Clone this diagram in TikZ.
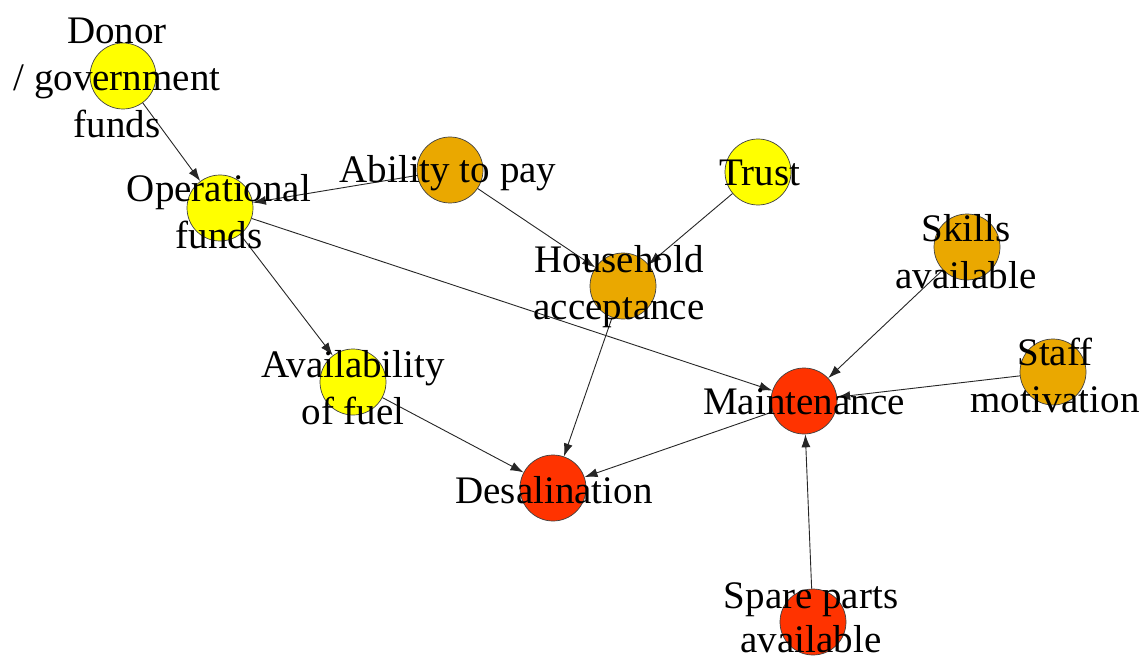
\documentclass[tikz,border=0pt]{standalone}
\usepackage{fontspec}
\setmainfont{Liberation Serif}
\usetikzlibrary{arrows.meta}
\definecolor{cyel}{RGB}{255,255,0}
\definecolor{corg}{RGB}{234,168,0}
\definecolor{cred}{RGB}{255,51,0}
\begin{document}
\begin{tikzpicture}[x=1pt,y=-1pt,
  nd/.style={circle,draw=black!75,line width=0.7pt,minimum size=66pt,inner sep=0pt},
  lbl/.style={font=\fontsize{39}{47}\selectfont,align=center,inner sep=0pt},
  edge/.style={draw=black!85,line width=0.9pt,-{Latex[length=13pt,width=9pt]}}]
\useasboundingbox[fill=white] (0,0) rectangle (1145,663);
% circles
\node[nd,fill=cyel] (donor) at (123,76) {};
\node[nd,fill=cyel] (opf) at (220,208) {};
\node[nd,fill=corg] (pay) at (450,170) {};
\node[nd,fill=cyel] (trust) at (758,172) {};
\node[nd,fill=corg] (house) at (623,286) {};
\node[nd,fill=corg] (skills) at (967,247) {};
\node[nd,fill=corg] (staff) at (1053,372) {};
\node[nd,fill=cred] (maint) at (804,401) {};
\node[nd,fill=cyel] (fuel) at (353,382) {};
\node[nd,fill=cred] (desal) at (553,488) {};
\node[nd,fill=cred] (spare) at (813,622) {};
% edges
\draw[edge] (donor) -- (opf);
\draw[edge] (pay) -- (opf);
\draw[edge] (pay) -- (house);
\draw[edge] (trust) -- (house);
\draw[edge] (opf) -- (maint);
\draw[edge] (opf) -- (fuel);
\draw[edge] (house) -- (desal);
\draw[edge] (fuel) -- (desal);
\draw[edge] (maint) -- (desal);
\draw[edge] (skills) -- (maint);
\draw[edge] (staff) -- (maint);
\draw[edge] (spare) -- (maint);
% labels
\node[lbl] (donorL) at (117,78) {Donor\\/ government\\funds};
\node[lbl] (opfL) at (219,212) {Operational\\funds};
\node[lbl] (payL) at (448,173) {Ability to pay};
\node[lbl] (trustL) at (760,173) {Trust};
\node[lbl] (houseL) at (619,287) {Household\\acceptance};
\node[lbl] (skillsL) at (966,252) {Skills\\available};
\node[lbl] (staffL) at (1055,375) {Staff\\motivation};
\node[lbl] (maintL) at (804,402) {Maintenance};
\node[lbl] (fuelL) at (353,388) {Availability\\of fuel};
\node[lbl] (desalL) at (554,490) {Desalination};
\node[lbl,font=\fontsize{39}{44}\selectfont] (spareL) at (811,618) {Spare parts\\available};
\end{tikzpicture}
\end{document}
